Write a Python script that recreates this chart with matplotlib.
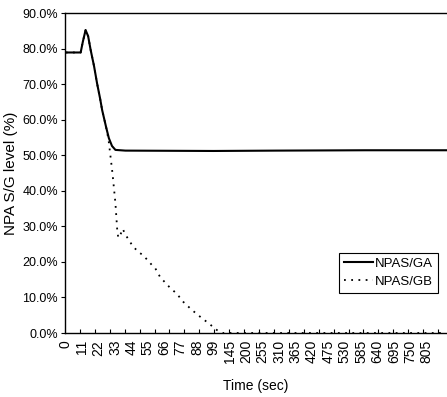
import matplotlib.pyplot as plt
import matplotlib.ticker as mticker
import numpy as np

plt.rcParams['font.family'] = ['Liberation Sans', 'DejaVu Sans']

# category labels shown on the time axis (one label every 11 samples)
tick_labels = ['0', '11', '22', '33', '44', '55', '66', '77', '88', '99', '145', '200',
               '255', '310', '365', '420', '475', '530', '585', '640', '695', '750', '805']

# NPA S/G A level, time (sec) and level (%)
t_a = [0, 10, 11.5, 13.3, 15, 16.7, 19, 21, 23, 24.4, 27, 28.9, 31, 33.3, 40, 99, 300, 600, 870]
lvl_a = [78.9, 78.9, 82.0, 85.2, 83.5, 79.6, 75.0, 70.2, 66.0, 62.7, 58.0, 54.8, 52.6, 51.5,
         51.3, 51.2, 51.3, 51.4, 51.4]

# NPA S/G B level
t_b = [0, 10, 11.5, 13.3, 15, 16.7, 19, 21, 23, 24.4, 27, 28.7, 31.3, 33.3, 34.5, 35.2, 36.5,
       38.2, 39.8, 45.1, 49.3, 51.8, 57.8, 60, 63.3, 69.5, 74.5, 78.9, 84.5, 90, 94.9, 98.5,
       109, 124, 300, 600, 870]
lvl_b = [78.9, 78.9, 82.0, 85.2, 83.5, 79.6, 75.0, 70.2, 66.0, 62.7, 58.0, 54.3, 45.0, 36.5,
         29.0, 26.8, 27.5, 29.3, 27.8, 24.3, 22.6, 21.9, 19.1, 18.2, 15.7, 12.9, 11.0, 8.7,
         6.5, 4.6, 3.0, 1.8, 0.8, 0.0, 0.0, 0.0, 0.0]

# time -> category position
label_times = [float(s) for s in tick_labels]
label_pos = np.arange(len(tick_labels)) * 11
extra_t = label_times + [870]
extra_p = list(label_pos) + [242 + 13]


def to_cat(t):
    return np.interp(t, extra_t, extra_p)


fig = plt.figure(figsize=(4.47, 3.97), dpi=100)
ax = fig.add_axes([0.1454, 0.1612, 0.8546, 0.8060])

ax.plot(to_cat(t_a), lvl_a, color='black', lw=1.5, label='NPAS/GA')
ax.plot(to_cat(t_b), lvl_b, color='black', lw=1.3, ls=(0, (1, 3)), label='NPAS/GB')

ax.set_xlim(-0.5, 255.5)
ax.set_ylim(0, 90)

ax.set_xticks(label_pos, tick_labels, rotation=90)
ax.tick_params(axis='x', which='major', length=0, pad=5, labelsize=10)
ax.xaxis.set_minor_locator(mticker.FixedLocator(np.arange(9.5, 256, 10)))
ax.tick_params(axis='x', which='minor', direction='in', length=3, width=0.8)

ax.set_yticks(np.arange(0, 91, 10))
ax.yaxis.set_major_formatter(mticker.FuncFormatter(lambda v, p: f'{v:.1f}%'))
ax.tick_params(axis='y', direction='out', length=3, width=0.8, labelsize=9, pad=2)

ax.spines['right'].set_visible(False)
for s in ('left', 'bottom', 'top'):
    ax.spines[s].set_linewidth(1.0)

ax.set_ylabel('NPA S/G level (%)', fontsize=11, labelpad=3)
ax.set_xlabel('Time (sec)', fontsize=10, labelpad=11)

leg = ax.legend(loc='upper right', bbox_to_anchor=(0.976, 0.25), borderaxespad=0,
                fancybox=False, framealpha=1, edgecolor='black', fontsize=9.5,
                handlelength=2.2, handletextpad=0.2, borderpad=0.35, labelspacing=0.45)
leg.get_frame().set_linewidth(0.8)

fig.savefig('out.png', dpi=100)
